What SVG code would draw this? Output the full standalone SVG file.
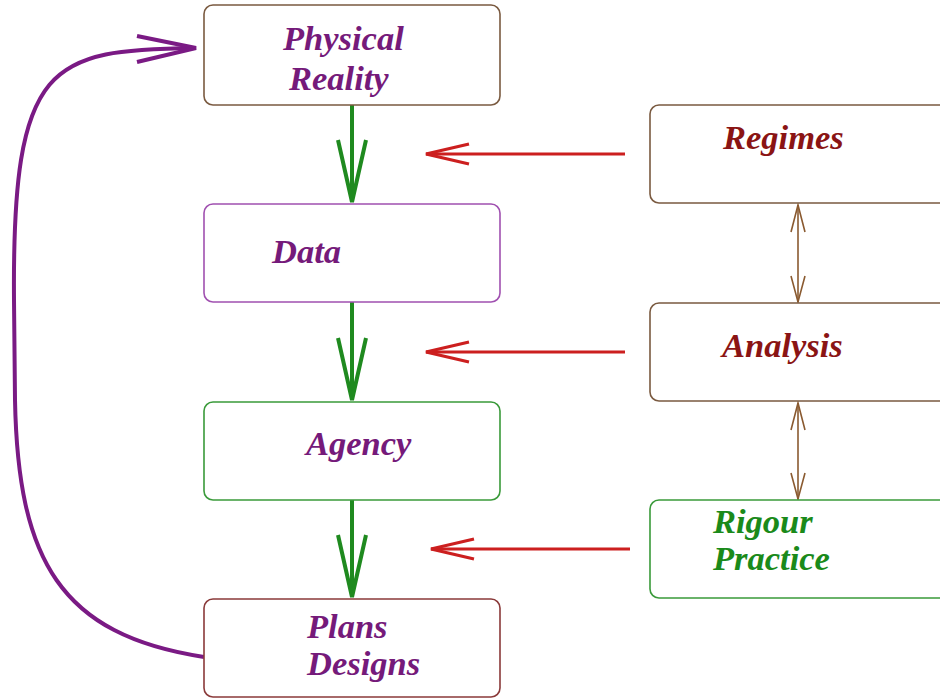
<svg xmlns="http://www.w3.org/2000/svg" width="940" height="699" viewBox="0 0 940 699">
<style>
.box{fill:#fff;stroke-width:1.6}
.t{font-family:"Liberation Serif","Times New Roman",serif;font-weight:bold;font-style:italic;font-size:34.5px}
.pu{fill:#751a7a}.dr{fill:#8a1414}.gr{fill:#1a8a1a}
.g{stroke:#1f8a1f;stroke-width:4;fill:none}
.r{stroke:#cc1f1f;stroke-width:3.2;fill:none}
.b{stroke:#8a5a30;stroke-width:1.6;fill:none}
.p{stroke:#7a1a84;stroke-width:4;fill:none}
</style>
<rect width="940" height="699" fill="#fff"/>
<g id="connectors">
<g id="g1"><line class="g" x1="352" y1="105" x2="352" y2="202"/><polyline class="g" points="338,140 352,202 366,140"/></g>
<g id="g2"><line class="g" x1="352" y1="302" x2="352" y2="400"/><polyline class="g" points="338,338 352,400 366,338"/></g>
<g id="g3"><line class="g" x1="352" y1="500" x2="352" y2="597"/><polyline class="g" points="338,535 352,597 366,535"/></g>
<g id="r1"><line class="r" x1="625" y1="154" x2="426" y2="154"/><polyline class="r" points="469,144 426,154 469,164"/></g>
<g id="r2"><line class="r" x1="625" y1="352" x2="426" y2="352"/><polyline class="r" points="469,342 426,352 469,362"/></g>
<g id="r3"><line class="r" x1="630" y1="549" x2="431" y2="549"/><polyline class="r" points="474,539 431,549 474,559"/></g>
<g id="b1"><line class="b" x1="798" y1="205" x2="798" y2="302"/><polyline class="b" points="791,232 798,205 805,232"/><polyline class="b" points="791,276 798,302 805,276"/></g>
<g id="b2"><line class="b" x1="798" y1="403" x2="798" y2="499"/><polyline class="b" points="791,430 798,403 805,430"/><polyline class="b" points="791,473 798,499 805,473"/></g>
<g id="loop"><path class="p" d="M204,657 C60,635 18,560 15,400 L14,300 C12,60 50,50 196,48"/><polyline class="p" points="137,36 196,48 137,62"/></g>
</g>
<g id="physical"><rect class="box" x="204" y="5" width="296" height="100" rx="9" stroke="#7a5a40"/><text class="t pu" x="283" y="50">Physical</text><text class="t pu" x="289" y="90">Reality</text></g>
<g id="data"><rect class="box" x="204" y="204" width="296" height="98" rx="9" stroke="#a050b0"/><text class="t pu" x="272" y="263">Data</text></g>
<g id="agency"><rect class="box" x="204" y="402" width="296" height="98" rx="9" stroke="#3a9a3a"/><text class="t pu" x="306" y="455">Agency</text></g>
<g id="plans"><rect class="box" x="204" y="599" width="296" height="98" rx="9" stroke="#8a3a3a"/><text class="t pu" x="307" y="638">Plans</text><text class="t pu" x="307" y="675">Designs</text></g>
<g id="regimes"><rect class="box" x="650" y="105" width="300" height="98" rx="9" stroke="#7a5a40"/><text class="t dr" x="723" y="149">Regimes</text></g>
<g id="analysis"><rect class="box" x="650" y="303" width="300" height="98" rx="9" stroke="#7a5a40"/><text class="t dr" x="722" y="357">Analysis</text></g>
<g id="rigour"><rect class="box" x="650" y="500" width="300" height="98" rx="9" stroke="#3a9a3a"/><text class="t gr" x="713" y="533">Rigour</text><text class="t gr" x="713" y="570">Practice</text></g>
</svg>
